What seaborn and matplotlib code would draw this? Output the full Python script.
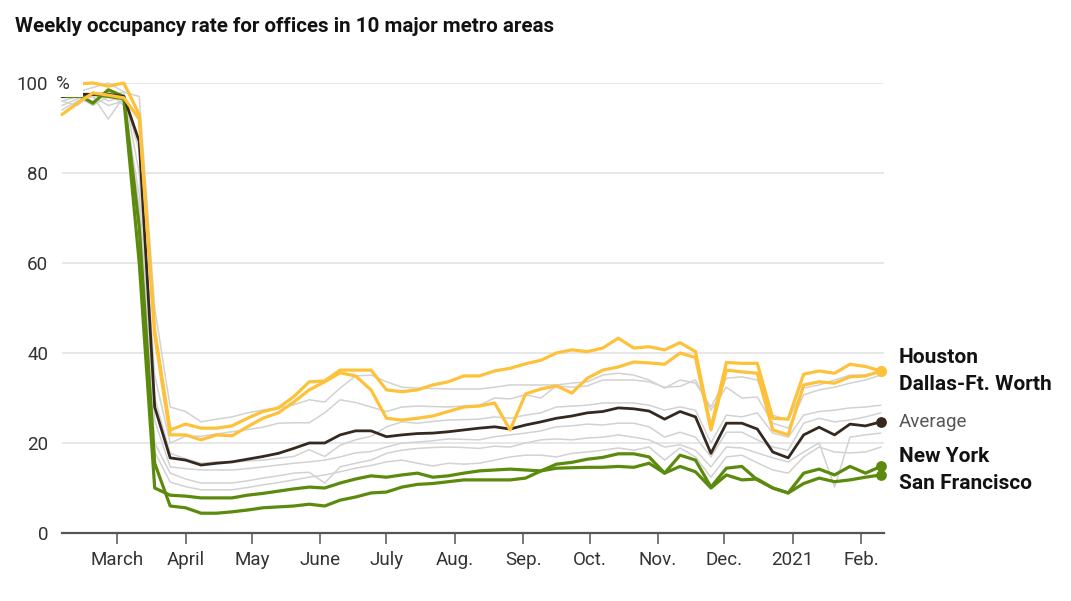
import matplotlib
matplotlib.use("Agg")
import matplotlib.pyplot as plt
import pandas as pd
import seaborn as sns

# weekly readings, Feb 5 2020 -> Feb 10 2021
weeks = pd.date_range("2020-02-05", periods=54, freq="7D")
month_ticks = pd.date_range("2020-03-01", "2021-02-01", freq="MS")
month_labels = ["March", "April", "May", "June", "July", "Aug.", "Sep.",
                "Oct.", "Nov.", "Dec.", "2021", "Feb."]

houston = [98.5, 99.8, 100, 99.3, 100, 93, 45,
           22.9, 24.2, 23.3, 23.3, 23.8, 25.5, 27, 27.8, 30.3, 33.6, 33.8, 36.2, 36.2, 36.2, 31.8,
           31.4, 31.8, 32.9, 33.6, 34.9, 34.9, 36, 36.6, 37.6, 38.4, 40, 40.7, 40.3, 41.1, 43.3, 41.1,
           41.4, 40.7, 42.3, 40.3, 23.3, 37.9, 37.7, 37.7, 25.5, 25.3, 35.3, 36, 35.5, 37.5, 37, 36]
dallas = [93, 95.5, 97.8, 97.3, 96.7, 92, 44,
          21.8, 21.8, 20.7, 21.8, 21.6, 23.6, 25.5, 26.7, 29.1, 31.8, 33.6, 35.6, 34.9, 31.8, 25.5,
          25.1, 25.5, 26, 27, 28, 28.2, 28.9, 22.9, 30.9, 32, 32.7, 31.1, 34.4, 36.2, 36.9, 38,
          37.8, 37.5, 40, 39, 22.9, 36.2, 35.8, 35.5, 22.9, 21.8, 32.9, 33.6, 33.3, 34.7, 34.9, 36]
average = [97, 97.5, 97.5, 97.5, 97, 87, 28,
           16.7, 16.2, 15.1, 15.5, 15.8, 16.4, 17, 17.7, 18.8, 20, 20, 21.8, 22.7, 22.7, 21.4,
           21.8, 22.1, 22.2, 22.5, 22.9, 23.3, 23.6, 23.1, 24, 24.7, 25.5, 26, 26.7, 27, 27.8, 27.6,
           27.1, 25.3, 27, 25.8, 17.7, 24.4, 24.4, 23.1, 18, 16.7, 21.8, 23.5, 21.8, 24.2, 23.8, 24.7]
new_york = [99, 97.5, 95.5, 98.5, 97, 68,
            15.5, 6, 5.6, 4.4, 4.4, 4.7, 5.1, 5.6, 5.8, 6, 6.4, 6, 7.3, 8, 8.9, 9.1,
            10.2, 10.8, 11, 11.4, 11.8, 11.8, 11.8, 11.8, 12.2, 13.8, 15.3, 15.7, 16.4, 16.8, 17.6, 17.6,
            16.9, 13.3, 17.3, 16.2, 10.2, 14.4, 14.8, 11.8, 10, 8.9, 13.3, 14.2, 12.9, 14.8, 13.3, 14.8]
san_francisco = [97, 97, 97.5, 97, 96.5, 60,
                 10, 8.4, 8.2, 7.8, 7.8, 7.8, 8.4, 8.8, 9.3, 9.8, 10.2, 10, 11.1, 12, 12.7, 12.4,
                 12.9, 13.3, 12.4, 12.7, 13.3, 13.8, 14, 14.2, 14, 13.8, 14.4, 14.5, 14.6, 14.6, 14.8, 14.6,
                 15.5, 13.3, 14.8, 13.6, 10, 12.9, 11.8, 12, 10, 8.9, 11, 12.2, 11.4, 11.8, 12.4, 12.9]

# the other six metros (grey)
other_a = [96, 97, 95, 97, 98, 97, 50,
           28, 27, 24.7, 25.3, 25.8, 26.7, 27.3, 27.8, 28.5, 29.6, 29.1, 32.2, 34.9, 35.1,
           33.6, 32.4, 32.2, 32.1, 32, 32, 32, 32.4, 32.9, 32.9, 32.9, 32.9, 33.3, 33.6, 35.1, 35.5, 35.1,
           34, 32.2, 34, 33.3, 28, 34.4, 34.7, 34, 26.2, 25.1, 32.2, 32.9, 34, 35.1, 35.1, 35.8]
other_b = [95, 96.5, 97, 92, 97, 85, 35,
           20, 21.5, 21.5, 22, 22.5, 23, 23.5, 24.4, 24.5, 24.5, 26.7, 29.6, 29, 28,
           27, 28, 28.2, 28.1, 28, 28.2, 28.4, 30, 29.8, 30.7, 30, 32.7, 32.4, 32.7, 34, 34, 34,
           33.6, 32.4, 32.6, 34, 27.3, 32.4, 30, 30.2, 24.4, 23.3, 30.7, 31.8, 32.4, 33.3, 34, 35.1]
other_c = [97, 98, 99, 100, 98, 80, 30,
           17.7, 16.5, 15.5, 15.8, 15.8, 16, 16.2, 16.6, 17, 18.5, 17, 19.5, 20.7, 21.5,
           23.6, 24.7, 24.4, 24.8, 25.1, 25.2, 25.3, 25.8, 25.5, 26.2, 26.7, 28, 28.2, 28.4, 28.9, 28.9, 28.9,
           28.4, 27.3, 28, 27.3, 20, 26.2, 25.8, 26.7, 22.2, 21.3, 26.2, 27, 27.3, 27.8, 28, 28.4]
other_d = [94, 96, 97, 95, 96, 75, 25,
           14.7, 14.3, 14, 14, 14, 14.3, 14.7, 15.1, 15.5, 15.8, 16.2, 16.9, 17.8, 18.1,
           19.1, 20, 20.2, 20.5, 20.9, 20.8, 20.7, 21.4, 21.8, 22.2, 22.7, 23.6, 23.8, 24.2, 24, 24.4, 24.4,
           23.6, 21.3, 22.4, 21.3, 16.9, 22.4, 22.4, 20.7, 19.1, 18.4, 24.4, 25.5, 24.7, 25.1, 25.8, 26.7]
other_e = [98, 97, 96, 98, 95, 70, 20,
           13.3, 12, 11.1, 11.1, 11.1, 11.6, 12.2, 12.7, 13.3, 13.5, 11.1, 14.7, 15.5, 16.2,
           17.7, 18.4, 18.8, 19, 19.1, 19, 18.8, 19.3, 19.1, 20, 20.7, 20.9, 20.7, 21.1, 21.3, 21.8, 21.3,
           20.7, 19.1, 19.6, 18.4, 14.7, 19.1, 18.9, 17.8, 16.7, 15.8, 18, 20, 10.2, 21.3, 21.8, 22.2]
other_f = [96, 95, 98, 96, 97, 72, 18,
           11.3, 10.3, 9.6, 9.6, 9.6, 10.1, 10.7, 11.2, 11.8, 12.4, 12.9, 13.6, 14.4, 15,
           15.8, 16.2, 15.5, 14.9, 15.5, 15.3, 15.5, 16.2, 16.9, 17.3, 17.3, 16.9, 17.7, 18, 18.4, 18.9, 18.4,
           19.1, 16.2, 18.9, 16.9, 12.4, 16.9, 17.3, 15.6, 14, 13.3, 16.9, 19.1, 18, 17.8, 18, 19.1]
others = [other_a, other_b, other_c, other_d, other_e, other_f]

YELLOW = "#fdc13a"
GREEN = "#5b8a0c"
DARK = "#35291f"
GREY = "#d2d2d2"

sns.set_theme(style="white")
plt.rcParams['font.family'] = ['Roboto', 'DejaVu Sans']

fig = plt.figure(figsize=(10.71, 6.01), dpi=100)
ax = fig.add_axes([62 / 1071, 68 / 601, 822 / 1071, 450 / 601])

for vals in others:
    sns.lineplot(x=weeks, y=vals, ax=ax, color=GREY, lw=1.1, zorder=2, clip_on=False)

sns.lineplot(x=weeks, y=average, ax=ax, color=DARK, lw=2.0, zorder=4, clip_on=False)
for vals in [new_york, san_francisco]:
    sns.lineplot(x=weeks, y=vals, ax=ax, color=GREEN, lw=2.3, zorder=3, clip_on=False)
for vals in [houston, dallas]:
    sns.lineplot(x=weeks, y=vals, ax=ax, color=YELLOW, lw=2.3, zorder=5, clip_on=False)

# end dots
ends = [(houston, YELLOW), (dallas, YELLOW), (average, DARK),
        (new_york, GREEN), (san_francisco, GREEN)]
for vals, c in ends:
    ax.scatter([weeks[-1]], [vals[-1]], s=60, color=c, zorder=6, clip_on=False, linewidths=0)

# right-hand labels
labels = [("Houston", 39.1, "bold", "#121212"),
          ("Dallas-Ft. Worth", 32.9, "bold", "#121212"),
          ("Average", 24.7, "normal", "#555555"),
          ("New York", 17.1, "bold", "#121212"),
          ("San Francisco", 10.9, "bold", "#121212")]
for txt, yv, wt, c in labels:
    ax.annotate(txt, xy=(weeks[-1], yv), xytext=(13, 0), textcoords="offset points",
                va="center", ha="left", fontsize=15 if wt == "bold" else 13.5,
                fontweight=wt, color=c, annotation_clip=False)

ax.set_xlim(weeks[0], weeks[-1] + pd.Timedelta(days=1.4))
ax.set_ylim(0, 100)
ax.set_xticks(month_ticks)
ax.set_xticklabels(month_labels)
ax.set_yticks([0, 20, 40, 60, 80, 100])
ax.set_yticklabels(["0", "20", "40", "60", "80", "100"])
ax.set_xlabel("")
ax.set_ylabel("")

for s in ["top", "right", "left"]:
    ax.spines[s].set_visible(False)
ax.spines["bottom"].set_color("#555555")
ax.spines["bottom"].set_linewidth(1.6)
ax.spines["bottom"].set_zorder(7)

ax.yaxis.grid(True, color="#e3e3e3", lw=1.2)
ax.xaxis.grid(False)
ax.set_axisbelow(True)
ax.tick_params(axis="x", length=8, width=1.1, color="#555555", direction="out",
               labelsize=13.5, labelcolor="#333333", pad=5, bottom=True)
ax.tick_params(axis="y", length=0, pad=10, labelsize=13.5, labelcolor="#333333")

# percent sign next to the 100 label, on a white patch
fig.text(56 / 1071, 1 - 84 / 601, "%  ", fontsize=13.5, color="#333333", va="center", ha="left",
         bbox=dict(facecolor="white", edgecolor="none", boxstyle="square,pad=0.2"), zorder=10)

fig.text(15 / 1071, 1 - 27 / 601, "Weekly occupancy rate for offices in 10 major metro areas",
         fontsize=14.8, fontweight="bold", color="#121212", va="center", ha="left")

fig.savefig("out.png", dpi=100)
